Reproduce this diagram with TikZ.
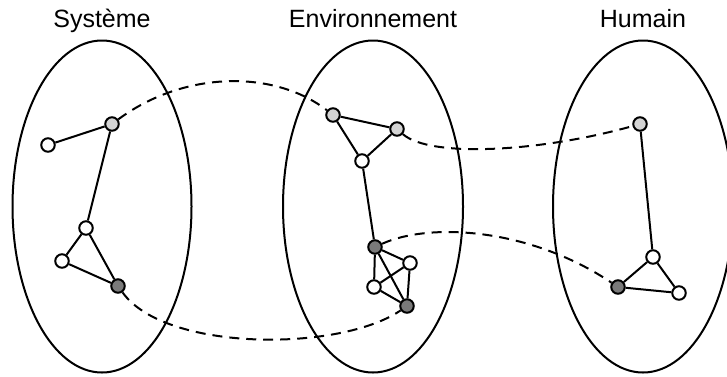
\documentclass[tikz,border=0pt]{standalone}
\usepackage{fontspec}
\setmainfont{Liberation Sans}
\usepackage{tikz}

\definecolor{clair}{gray}{0.83}
\definecolor{fonce}{gray}{0.48}

\begin{document}
\begin{tikzpicture}[x=1pt, y=-1pt,
    sommet/.style={shape=circle, draw=black, line width=2pt, minimum size=13.5pt, inner sep=0pt, fill=white},
    sclair/.style={sommet, fill=clair},
    sfonce/.style={sommet, fill=fonce},
    lien/.style={-, line width=2pt},
    pont/.style={-, line width=2pt, dash pattern=on 10pt off 7pt},
    titre/.style={anchor=base, font=\fontsize{25}{30}\selectfont}]
        \useasboundingbox (0,0) rectangle (727,376);

        % domaines
        \draw[line width=2pt] (102,206.5) ellipse (89.5pt and 166pt);
        \draw[line width=2pt] (373,206.5) ellipse (90pt and 166pt);
        \draw[line width=2pt] (643,206.5) ellipse (90pt and 166pt);

        \node[titre] (tsys) at (102,27) {Système};
        \node[titre] (tenv) at (373,27) {Environnement};
        \node[titre] (thum) at (643,27) {Humain};

        % systeme
        \node[sclair] (s1) at (112,124) {};
        \node[sommet] (s2) at (48,145) {};
        \node[sommet] (s3) at (86,228) {};
        \node[sommet] (s4) at (62,261) {};
        \node[sfonce] (s5) at (118,286) {};

        % environnement
        \node[sclair] (e1) at (333,115) {};
        \node[sclair] (e2) at (397,129) {};
        \node[sommet] (e3) at (362,161) {};
        \node[sfonce] (e4) at (375,247) {};
        \node[sommet] (e5) at (410,263) {};
        \node[sommet] (e6) at (374,287) {};
        \node[sfonce] (e7) at (407,306) {};

        % humain
        \node[sclair] (h1) at (640,124) {};
        \node[sommet] (h2) at (653,257) {};
        \node[sfonce] (h3) at (618,287) {};
        \node[sommet] (h4) at (679,293) {};

        \path[lien] (s2) edge (s1);
        \path[lien] (s1) edge (s3);
        \path[lien] (s3) edge (s4);
        \path[lien] (s3) edge (s5);
        \path[lien] (s4) edge (s5);

        \path[lien] (e1) edge (e2);
        \path[lien] (e1) edge (e3);
        \path[lien] (e2) edge (e3);
        \path[lien] (e3) edge (e4);
        \path[lien] (e4) edge (e5);
        \path[lien] (e4) edge (e6);
        \path[lien] (e4) edge (e7);
        \path[lien] (e6) edge (e5);
        \path[lien] (e6) edge (e7);
        \path[lien] (e5) edge (e7);

        \path[lien] (h1) edge (h2);
        \path[lien] (h2) edge (h3);
        \path[lien] (h2) edge (h4);
        \path[lien] (h3) edge (h4);

        % correspondances
        \draw[pont] (s1) .. controls (185,70) and (275,70) .. (e1);
        \draw[pont] (e2) .. controls (430,158) and (540,152) .. (h1);
        \draw[pont] (e4) .. controls (430,222) and (530,228) .. (h3);
        \draw[pont] (s5) .. controls (165,352) and (340,352) .. (e7);
\end{tikzpicture}
\end{document}
